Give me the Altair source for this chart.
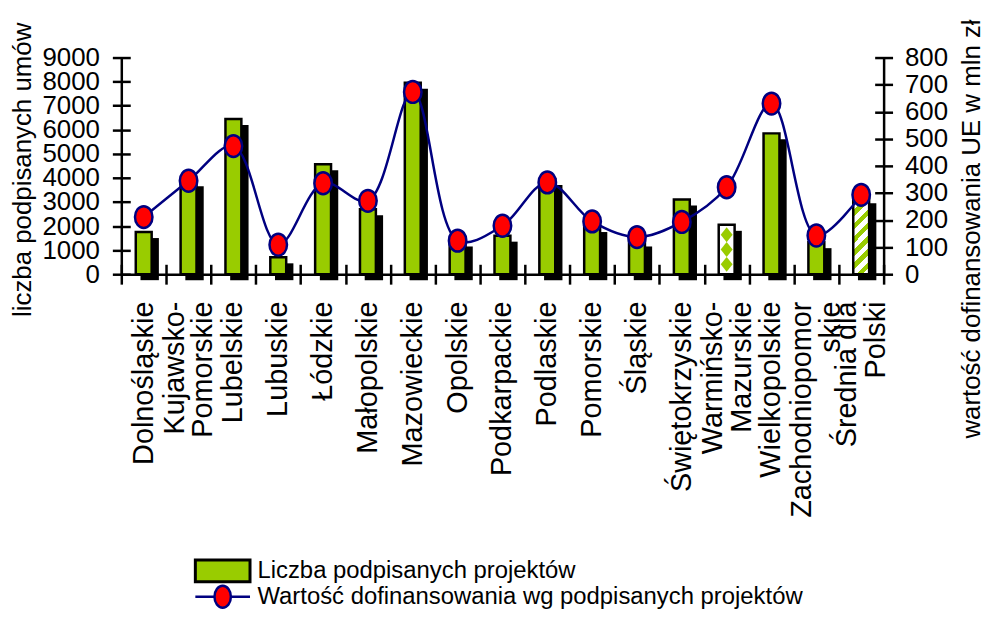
import altair as alt
import pandas as pd

# ---------------- data ----------------
categories = ["Dolnośląskie", "Kujawsko-\nPomorskie", "Lubelskie", "Lubuskie", "Łódzkie",
              "Małopolskie", "Mazowieckie", "Opolskie", "Podkarpackie", "Podlaskie",
              "Pomorskie", "Śląskie", "Świętokrzyskie", "Warmińsko-\nMazurskie",
              "Wielkopolskie", "Zachodniopomor\nskie", "Średnia dla\nPolski"]
contracts = [1750, 3900, 6450, 700, 4570, 2700, 7950, 1400, 1600, 3950,
             2000, 1400, 3100, 2050, 5850, 1330, 3200]
funding = [211, 345, 473, 109, 336, 271, 673, 124, 179, 339,
           195, 137, 193, 321, 630, 143, 293]
left_ticks = [0, 1000, 2000, 3000, 4000, 5000, 6000, 7000, 8000, 9000]
right_ticks = [0, 100, 200, 300, 400, 500, 600, 700, 800]
bar_series = "Liczba podpisanych projektów"
line_series = "Wartość dofinansowania wg podpisanych projektów"
left_title = "liczba podpisanych umów"
right_title = "wartość dofinansowania UE w mln zł"

WARM = categories[13]
AVG = categories[16]
plain = [c for c in categories if c not in (WARM, AVG)]

df = pd.DataFrame({"region": categories, "contracts": contracts, "funding": funding,
                   "bar_key": bar_series, "line_key": line_series})

# ---------------- style ----------------
GREEN = "#99CC00"
NAVY = "#000080"
RED = "#FF0000"
FONT = "Liberation Sans, Arial, sans-serif"

ELLIPSE = "M-0.8,0A0.8,1 0 1,1 0.8,0A0.8,1 0 1,1 -0.8,0Z"
DIAMOND = "M0,-1L0.8,0L0,1L-0.8,0Z"
LEG_RECT = "M-1,-0.4H1V0.4H-1Z"
LEG_LINE = ("M-1,0H-0.3M0.3,0H1M-0.3,0A0.3,0.4 0 1,1 0.3,0"
            "A0.3,0.4 0 1,1 -0.3,0Z")


def stripe_stops(n=7, duty=0.5):
    stops = []
    for i in range(n):
        a = i / n
        b = (i + duty) / n
        c = (i + 1) / n
        stops += [{"offset": a, "color": GREEN}, {"offset": b, "color": GREEN},
                  {"offset": b, "color": "white"}, {"offset": c, "color": "white"}]
    return stops


STRIPES = {"gradient": "linear", "x1": 0, "y1": 0, "x2": 0.24, "y2": 1.16,
           "stops": stripe_stops()}

xscale = alt.Scale(paddingInner=0, paddingOuter=0)

LBL = dict(labelAngle=270, labelAlign="right", labelBaseline="middle",
           labelFont=FONT, labelFontSize=29, labelColor="black", labelLimit=400,
           labelOverlap=False, labelPadding=27, grid=False, zindex=1, title=None,
           orient="bottom", offset=0, ticks=False)

# ticks crossing the axis line (no labels)
x_tick_axis = alt.Axis(title=None, orient="bottom", offset=-10, domain=False,
                       ticks=True, tickSize=20, tickWidth=2.5, tickColor="black",
                       tickBand="extent", labels=False, grid=False, zindex=1)
# axis line + single-line labels
x_dom_axis = alt.Axis(domain=True, domainColor="black", domainWidth=2.5,
                      labelExpr="indexof(datum.label, '\\n') < 0 ? datum.label : ''",
                      **LBL)
# first line of two-line labels
x_line1_axis = alt.Axis(domain=False, labelOffset=-14,
                        labelExpr="indexof(datum.label, '\\n') < 0 ? '' : split(datum.label, '\\n')[0]",
                        **LBL)
# second line of two-line labels
x_line2_axis = alt.Axis(domain=False, labelOffset=15,
                        labelExpr="indexof(datum.label, '\\n') < 0 ? '' : split(datum.label, '\\n')[1]",
                        **LBL)


def xenc(axis):
    return alt.X("region:N", sort=categories, scale=xscale, axis=axis)


lscale = alt.Scale(domain=[0, 9000], nice=False, zero=True)
rscale = alt.Scale(domain=[0, 800], nice=False, zero=True)

y_left_axis = alt.Axis(title=None, orient="left", offset=-9, domain=False,
                       tickSize=18, tickWidth=2.5, tickColor="black",
                       values=left_ticks, format="d", labelFont=FONT,
                       labelFontSize=26, labelColor="black", labelPadding=13,
                       labelOverlap=False, labelFlush=False, grid=False, zindex=1)
y_right_axis = alt.Axis(title=None, orient="right", offset=-9, domain=False,
                        tickSize=18, tickWidth=2.5, tickColor="black",
                        values=right_ticks, format="d", labelFont=FONT,
                        labelFontSize=26, labelColor="black", labelPadding=12,
                        labelOverlap=False, labelFlush=False, grid=False, zindex=1)
y_left_dom = alt.Axis(title=left_title, orient="left", offset=0, domain=True,
                      domainColor="black", domainWidth=2.5, ticks=False,
                      labels=False, grid=False, zindex=1, titleX=-99.5,
                      titleY=112.5, titleAngle=270, titleAlign="center",
                      titleBaseline="middle", titleFont=FONT, titleFontSize=26,
                      titleFontWeight="normal", titleColor="black")
y_right_dom = alt.Axis(title=right_title, orient="right", offset=0, domain=True,
                       domainColor="black", domainWidth=2.5, ticks=False,
                       labels=False, grid=False, zindex=1, titleX=88,
                       titleY=172, titleAngle=270, titleAlign="center",
                       titleBaseline="middle", titleFont=FONT, titleFontSize=26,
                       titleFontWeight="normal", titleColor="black")

base = alt.Chart(df)

shadow = base.mark_bar(size=18.5, color="black", xOffset=6, yOffset=6,
                       y2Offset=0).encode(
    x=xenc(x_tick_axis),
    y=alt.Y("contracts:Q", scale=lscale, axis=y_left_axis))

green = base.transform_filter(
    alt.FieldOneOfPredicate(field="region", oneOf=plain)
).mark_bar(size=16, stroke="black", strokeWidth=2.5, opacity=1).encode(
    x=xenc(x_tick_axis),
    y=alt.Y("contracts:Q", scale=lscale, axis=y_left_axis),
    fill=alt.Fill("bar_key:N", scale=alt.Scale(range=[GREEN]),
                  legend=alt.Legend(title=None, orient="none", legendX=73,
                                    legendY=487.5, symbolType=LEG_RECT,
                                    symbolSize=3025, symbolStrokeWidth=3,
                                    labelFont=FONT, labelFontSize=24,
                                    labelColor="black", labelLimit=1000,
                                    labelOffset=6, padding=0)))

warm = base.transform_filter(
    alt.FieldEqualPredicate(field="region", equal=WARM)
).mark_bar(size=16, fill="white", stroke="black", strokeWidth=2.5).encode(
    x=xenc(x_tick_axis),
    y=alt.Y("contracts:Q", scale=lscale, axis=y_left_axis))

diamonds = base.transform_filter(
    alt.FieldEqualPredicate(field="region", equal=WARM)
).transform_calculate(
    frac="[0.2, 0.5, 0.8]"
).transform_flatten(["frac"]).transform_calculate(
    dy="datum.contracts * datum.frac"
).mark_point(shape=DIAMOND, filled=True, color=GREEN, size=225, opacity=1,
             strokeWidth=0).encode(
    x=xenc(x_tick_axis),
    y=alt.Y("dy:Q", scale=lscale, axis=y_left_axis))

avg = base.transform_filter(
    alt.FieldEqualPredicate(field="region", equal=AVG)
).mark_bar(size=16, fill=STRIPES, stroke="black", strokeWidth=2.5).encode(
    x=xenc(x_tick_axis),
    y=alt.Y("contracts:Q", scale=lscale, axis=y_left_axis))

left = alt.layer(shadow, green, warm, diamonds, avg)

line = base.mark_line(interpolate="catmull-rom", color=NAVY,
                      strokeWidth=2.5).encode(
    x=xenc(None),
    y=alt.Y("funding:Q", scale=rscale, axis=y_right_axis))

points = base.mark_point(shape=ELLIPSE, filled=True, fill=RED, size=484,
                         strokeWidth=2.5, opacity=1).encode(
    x=xenc(None),
    y=alt.Y("funding:Q", scale=rscale, axis=y_right_axis),
    stroke=alt.Stroke("line_key:N", scale=alt.Scale(range=[NAVY]),
                      legend=alt.Legend(title=None, orient="none", legendX=73,
                                        legendY=513.5, symbolType=LEG_LINE,
                                        symbolSize=3025, symbolStrokeWidth=2.5,
                                        labelFont=FONT, labelFontSize=24,
                                        labelColor="black", labelLimit=1000,
                                        labelOffset=6, padding=0)))

right = alt.layer(line, points)

leftdom = base.mark_bar(opacity=0).encode(
    x=xenc(x_dom_axis),
    y=alt.Y("contracts:Q", scale=lscale, axis=y_left_dom))

rightdom = base.mark_point(opacity=0).encode(
    x=xenc(x_line1_axis),
    y=alt.Y("funding:Q", scale=rscale, axis=y_right_dom))

second_lines = base.mark_point(opacity=0).encode(
    x=xenc(x_line2_axis),
    y=alt.Y("funding:Q", scale=rscale, axis=None))

chart = alt.layer(left, right, leftdom, rightdom, second_lines).resolve_scale(
    y="independent"
).resolve_axis(
    x="independent", y="independent"
).properties(
    width=767, height=218,
    autosize=alt.AutoSizeParams(type="none"),
    padding={"left": 114, "top": 48, "right": 100, "bottom": 336},
    background="white"
).configure_view(stroke=None)

chart.save("out.html", embed_options={"renderer": "svg", "actions": False})
